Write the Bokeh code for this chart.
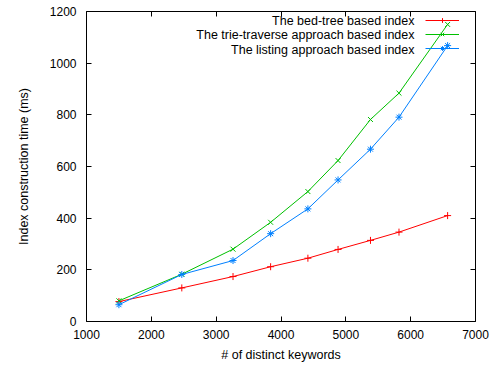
from bokeh.plotting import figure
from bokeh.models import (Legend, LegendItem, Label, LinearAxis, FixedTicker)
from bokeh.embed import file_html
from bokeh.resources import INLINE

# ---- data ----
keywords = [1500, 2470, 3260, 3840, 4415, 4880, 5380, 5820, 6570]
bed_tree = [77, 130, 174, 212, 245, 279, 314, 346, 410]
trie_traverse = [80, 183, 280, 384, 503, 623, 782, 884, 1150]
listing = [65, 182, 236, 340, 436, 548, 667, 791, 1068]

series_names = ["The bed-tree based index",
                "The trie-traverse approach based index",
                "The listing approach based index"]
x_ticks = [1000, 2000, 3000, 4000, 5000, 6000, 7000]
y_ticks = [0, 200, 400, 600, 800, 1000, 1200]

FONT = "Liberation Sans"
FS = "12px"
FS_L = "12.5px"

p = figure(width=490, height=364, output_backend="svg", toolbar_location=None,
           x_range=(1000, 7000), y_range=(0, 1200),
           min_border_left=86, min_border_right=15, min_border_top=11,
           min_border_bottom=43)
p.grid.visible = False
p.outline_line_color = "#000000"
p.outline_line_width = 1
p.background_fill_color = "white"
p.border_fill_color = "white"

for ax in (p.xaxis[0], p.yaxis[0]):
    ax.major_tick_in = 5
    ax.major_tick_out = 0
    ax.minor_tick_line_color = None
    ax.axis_line_color = None
    ax.major_tick_line_color = "#000000"
    ax.major_label_text_font = FONT
    ax.major_label_text_font_size = FS
    ax.major_label_text_color = "#000000"
    ax.axis_label_text_font = FONT
    ax.axis_label_text_font_size = FS_L
    ax.axis_label_text_font_style = "normal"
    ax.axis_label_text_color = "#000000"

p.xaxis[0].ticker = FixedTicker(ticks=x_ticks)
p.yaxis[0].ticker = FixedTicker(ticks=y_ticks)
p.xaxis[0].axis_label = "# of distinct keywords"
p.yaxis[0].axis_label = "Index construction time (ms)"
p.xaxis[0].major_label_standoff = 8
p.yaxis[0].major_label_standoff = 10
p.xaxis[0].axis_label_standoff = 6
p.yaxis[0].axis_label_standoff = 16

# mirrored ticks on top and right (labels not drawn)
top_ax = LinearAxis(ticker=FixedTicker(ticks=x_ticks))
right_ax = LinearAxis(ticker=FixedTicker(ticks=y_ticks))
for ax in (top_ax, right_ax):
    ax.major_tick_in = 5
    ax.major_tick_out = 0
    ax.minor_tick_line_color = None
    ax.axis_line_color = None
    ax.major_tick_line_color = "#000000"
    ax.major_label_text_font_size = "1px"
    ax.major_label_text_color = None
    ax.major_label_standoff = 0
p.add_layout(top_ax, "above")
p.add_layout(right_ax, "right")

colors = ["#ff0000", "#00c000", "#0080ff"]
markers = ["cross", "x", "asterisk"]
ys = [bed_tree, trie_traverse, listing]

items = []
for yv, c, m in zip(ys, colors, markers):
    rl = p.line(keywords, yv, line_color=c, line_width=1)
    rs = p.scatter(keywords, yv, marker=m, size=7, line_color=c, line_width=1,
                   fill_color=None)
    items.append(LegendItem(label=" ", renderers=[rl, rs]))

legend = Legend(items=items, location=(339, 266.7), orientation="vertical",
                glyph_width=34, glyph_height=12, label_height=12, label_width=0,
                label_standoff=0, padding=0, spacing=2, margin=0,
                border_line_alpha=0, background_fill_alpha=0,
                label_text_font_size="1px")
p.add_layout(legend, "center")

# legend texts, right aligned to the left of the samples
for i, name in enumerate(series_names):
    p.add_layout(Label(x=328, y=300.7 - 14.5 * i, x_units="screen", y_units="screen",
                       text=name, text_align="right", text_baseline="middle",
                       text_font=FONT, text_font_size=FS_L, text_color="#000000"))

open("out.html", "w").write(file_html(p, INLINE))
